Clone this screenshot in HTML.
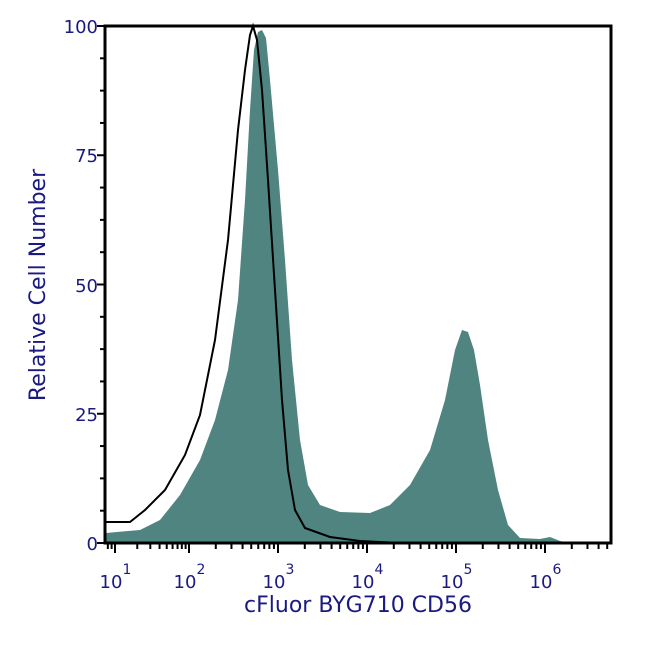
<!DOCTYPE html>
<html><head><meta charset="utf-8"><style>
body{margin:0;background:#fff;}
svg{display:block;font-family:"DejaVu Sans","Liberation Sans",sans-serif;}
</style></head><body>
<svg id="s" width="650" height="650" viewBox="0 0 650 650" xmlns="http://www.w3.org/2000/svg">
<path fill="#4f8480" d="M106,543 L106,533 L140,530 L160,520 L180,495 L200,460 L215,420 L228,370 L238,300 L245,200 L250,110 L254,50 L258,32 L262,30 L266,38 L270,80 L278,170 L285,260 L292,360 L300,440 L308,485 L320,505 L340,512 L370,513 L390,505 L410,485 L430,450 L445,400 L455,350 L462,330 L468,332 L474,350 L480,385 L488,440 L498,490 L508,525 L520,538 L540,539 L550,537 L560,541 L570,543 Z"/>
<path fill="none" stroke="#000" stroke-width="2" d="M106,522 L130,522 L145,510 L165,490 L185,455 L200,415 L215,340 L228,240 L238,130 L245,70 L250,35 L253,26 L257,40 L262,90 L268,180 L275,290 L282,400 L288,470 L295,510 L305,528 L330,537 L360,541 L400,543"/>
<rect x="105" y="26" width="506" height="517" fill="none" stroke="#000" stroke-width="3"/>
<g id="t" stroke="#000" stroke-width="2"></g>
<g fill="#1a1a80" font-size="18" text-anchor="end">
<text x="98" y="33">100</text><text x="98" y="162">75</text><text x="98" y="292">50</text><text x="98" y="421">25</text><text x="98" y="550">0</text>
</g>
<g fill="#1a1a80" font-size="18" text-anchor="middle" id="xl"></g>
<text x="358" y="612" fill="#1a1a80" font-size="22" text-anchor="middle">cFluor BYG710 CD56</text>
<text transform="translate(45,285) rotate(-90)" fill="#1a1a80" font-size="22" text-anchor="middle">Relative Cell Number</text>
</svg>
<script>
var g=document.getElementById('t'),xl=document.getElementById('xl'),h='';
function X(v){var l=Math.log10(v);return l>=2?189+89*(l-2):115+74*(l-1);}
for(var i=0;i<=16;i++){var y=543-517*i/16,len=(i%4==0)?8:5;h+='<line x1="'+(105-len)+'" y1="'+y+'" x2="105" y2="'+y+'"/>';}
for(var d=0;d<=6;d++){for(var m=1;m<10;m++){var v=m*Math.pow(10,d),x=X(v);if(x<106||x>610)continue;var len=(m==1)?10:6;h+='<line x1="'+x+'" y1="543" x2="'+x+'" y2="'+(543+len)+'"/>';}}
g.innerHTML=h;
var s='';for(var d=1;d<=6;d++){var x=X(Math.pow(10,d));s+='<text x="'+(x-4)+'" y="588">10</text><text x="'+(x+12)+'" y="574" font-size="14">'+d+'</text>';}
xl.innerHTML=s;
</script>
</body></html>
